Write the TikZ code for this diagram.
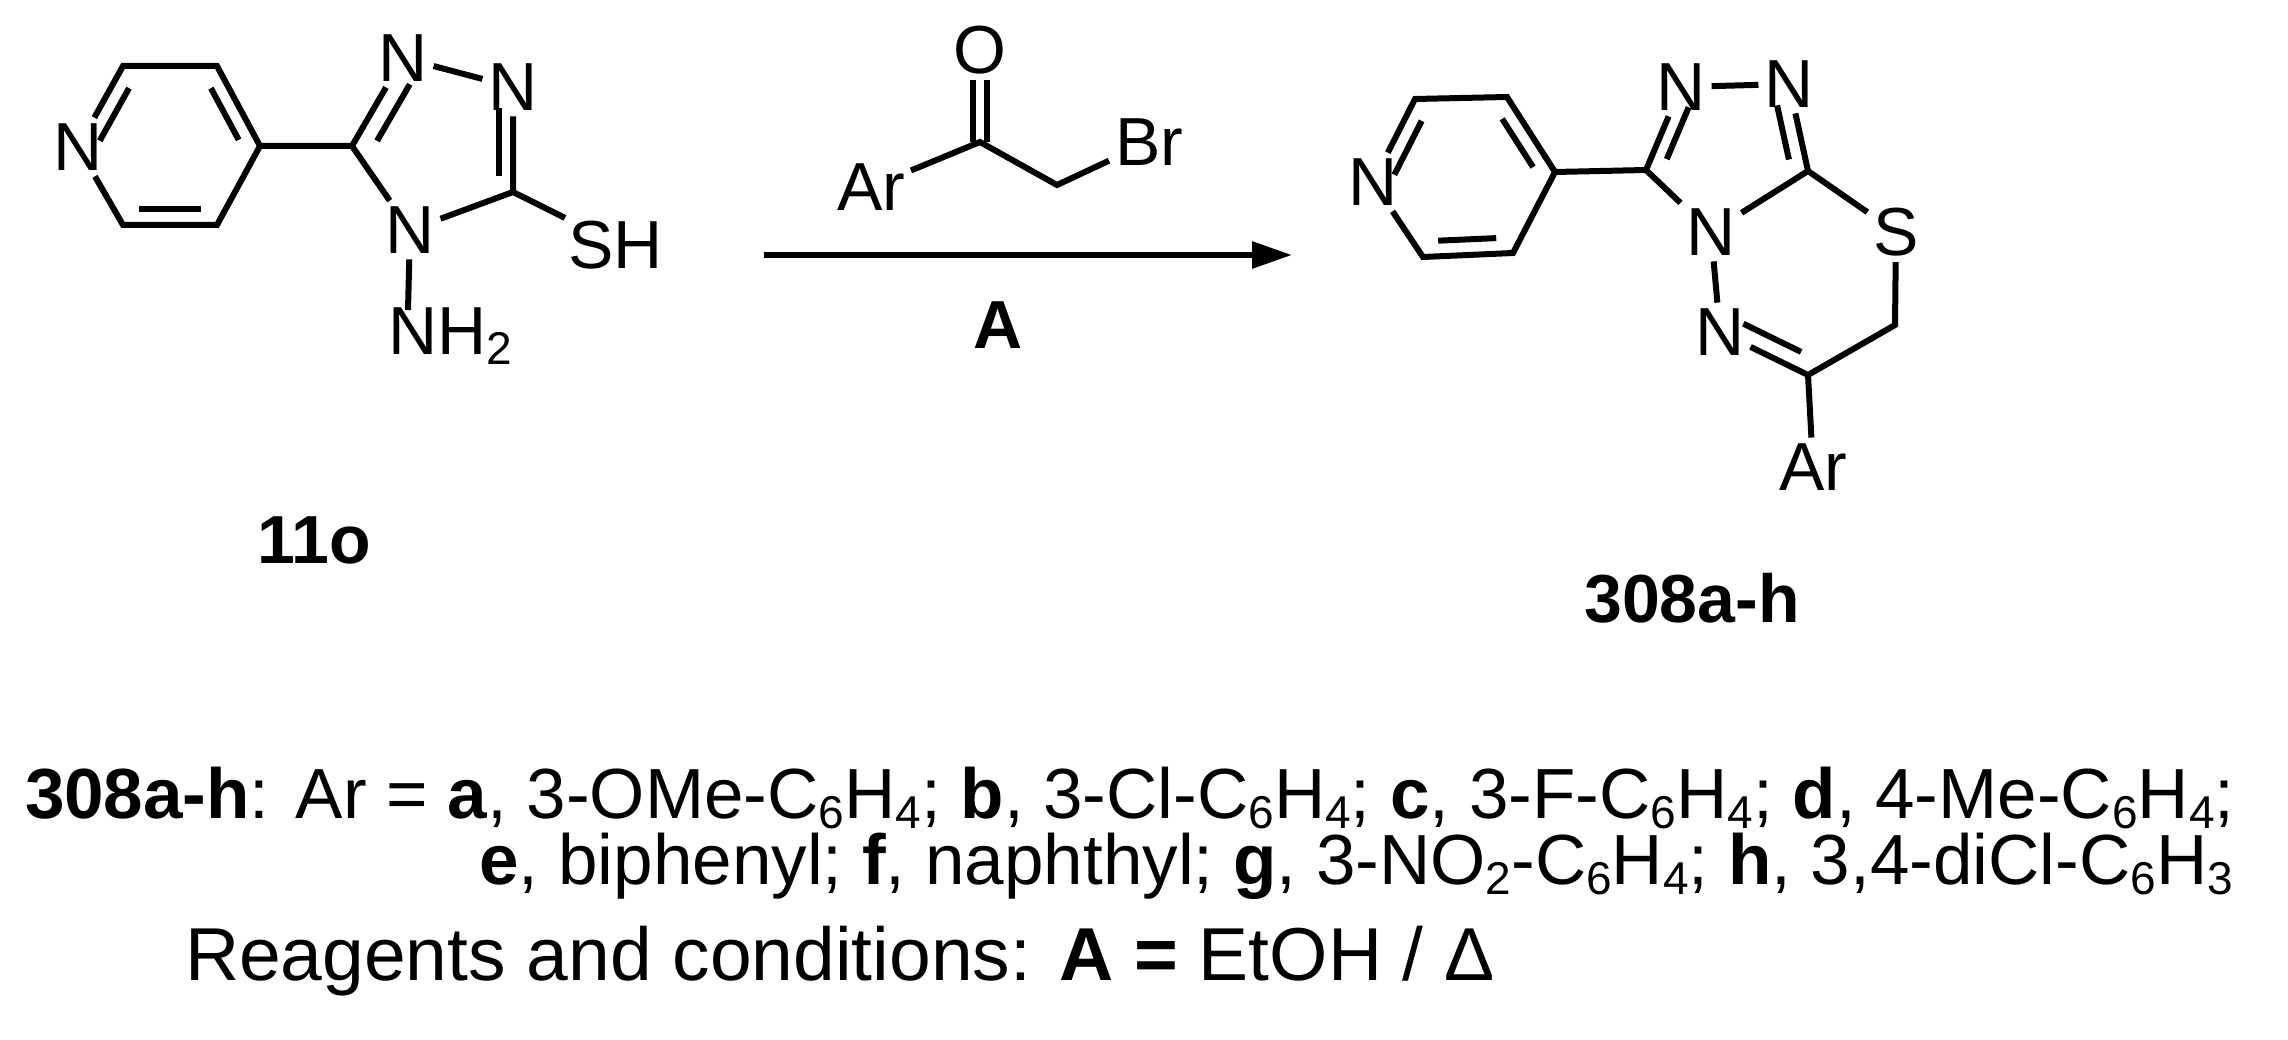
\documentclass[tikz,border=0pt]{standalone}
\usepackage{fontspec}
\setmainfont{Liberation Sans}
\usetikzlibrary{calc,arrows.meta}
\newcommand\mysub[1]{\raisebox{-0.15em}{\fontsize{46}{46}\selectfont #1}}
\begin{document}
\begin{tikzpicture}[x=1pt,y=-1pt,line width=6pt,
  atom/.style={inner sep=3pt,font=\fontsize{68}{68}\selectfont},
  txt/.style={inner sep=0pt,font=\fontsize{71}{71}\selectfont,anchor=base west},
  inner/.style={shorten <=7pt,shorten >=7pt}]
\useasboundingbox (0,0) rectangle (2288,1040);
% ---------- left molecule 11o
\node[atom] (LN) at (78,147) {N};
\coordinate (La) at (123,66);
\coordinate (Lb) at (217,66);
\coordinate (Lc) at (260,146);
\coordinate (Ld) at (217,225);
\coordinate (Le) at (123,225);
\coordinate (Lpc) at (170,146);
\coordinate (LC5) at (352,146);
\node[atom] (LN1) at (403,58) {N};
\node[atom] (LN2) at (513,87) {N};
\coordinate (LC3) at (513,192);
\node[atom] (LN4) at (410,230) {N};
\node[atom,anchor=west,inner sep=0pt] (LSH) at (565,245) {SH};
\node[atom,anchor=west,inner sep=0pt] (LNH) at (385,336) {NH\mysub{2}};
\coordinate (LNHn) at (408,310);
\coordinate (Ltc) at (450,150);
\draw (LN) -- (La) -- (Lb) -- (Lc) -- (Ld) -- (Le) -- (LN);
\draw[inner] ($(LN)!0.2!(Lpc)$) -- ($(La)!0.2!(Lpc)$);
\draw[inner] ($(Lb)!0.2!(Lpc)$) -- ($(Lc)!0.2!(Lpc)$);
\draw[inner] ($(Ld)!0.2!(Lpc)$) -- ($(Le)!0.2!(Lpc)$);
\draw (Lc) -- (LC5) -- (LN1) -- (LN2) -- (LC3) -- (LN4) -- (LC5);
\draw[inner] ($(LC5)!0.22!(Ltc)$) -- ($(LN1)!0.22!(Ltc)$);
\draw[inner] ($(LN2)!0.22!(Ltc)$) -- ($(LC3)!0.22!(Ltc)$);
\draw (LC3) -- (LSH.north west);
\draw (LN4) -- (LNHn);
\node[font=\bfseries\fontsize{68}{68}\selectfont] (L11) at (314,540) {11o};
% ---------- reagent and arrow
\node[atom] (RAr) at (871,187) {Ar};
\coordinate (RC) at (980,142);
\node[atom] (RO) at (980,50) {O};
\coordinate (RCH) at (1057,185);
\node[atom] (RBr) at (1149,142) {Br};
\draw (RAr) -- (RC) -- (RCH) -- (RBr);
\draw ($(RC)+(-7,0)$) -- ($(RO.south)+(-7,0)$);
\draw ($(RC)+(7,0)$) -- ($(RO.south)+(7,0)$);
\coordinate (A1) at (764,255);
\coordinate (A2) at (1292,255);
\draw[-{Triangle[length=40pt,width=26pt]}] (A1) -- (A2);
\node[font=\bfseries\fontsize{68}{68}\selectfont] (RA) at (998,325) {A};
% ---------- right molecule 308a-h
\node[atom] (PN) at (1373,182) {N};
\coordinate (Pa) at (1415,99);
\coordinate (Pb) at (1507,97);
\coordinate (Pc) at (1555,172);
\coordinate (Pd) at (1513,253);
\coordinate (Pe) at (1423,257);
\coordinate (Ppc) at (1464,177);
\coordinate (PC3) at (1646,170);
\node[atom] (PN1) at (1681,87) {N};
\node[atom] (PN2) at (1789,84) {N};
\coordinate (PC8) at (1808,171);
\node[atom] (PN4) at (1711,232) {N};
\node[atom] (PS) at (1896,232) {S};
\coordinate (PCH) at (1895,325);
\coordinate (PC6) at (1808,375);
\node[atom] (PN5) at (1720,332) {N};
\node[atom] (PAr) at (1813,467) {Ar};
\coordinate (Ptc) at (1728,150);
\coordinate (Psc) at (1805,275);
\draw (PN) -- (Pa) -- (Pb) -- (Pc) -- (Pd) -- (Pe) -- (PN);
\draw[inner] ($(PN)!0.2!(Ppc)$) -- ($(Pa)!0.2!(Ppc)$);
\draw[inner] ($(Pb)!0.2!(Ppc)$) -- ($(Pc)!0.2!(Ppc)$);
\draw[inner] ($(Pd)!0.2!(Ppc)$) -- ($(Pe)!0.2!(Ppc)$);
\draw (Pc) -- (PC3) -- (PN1) -- (PN2) -- (PC8) -- (PN4) -- (PC3);
\draw[inner] ($(PC3)!0.22!(Ptc)$) -- ($(PN1)!0.22!(Ptc)$);
\draw[inner] ($(PN2)!0.22!(Ptc)$) -- ($(PC8)!0.22!(Ptc)$);
\draw (PC8) -- (PS) -- (PCH) -- (PC6) -- (PN5) -- (PN4);
\draw[inner] ($(PC6)!0.2!(Psc)$) -- ($(PN5)!0.2!(Psc)$);
\draw (PC6) -- (PAr);
\node[font=\bfseries\fontsize{68}{68}\selectfont] (P308) at (1692,598) {308a-h};
% ---------- text
\node[txt] (T1) at (22,818) {\textbf{308a-h}: Ar = \textbf{a}, 3-OMe-C\mysub{6}H\mysub{4}; \textbf{b}, 3-Cl-C\mysub{6}H\mysub{4}; \textbf{c}, 3-F-C\mysub{6}H\mysub{4}; \textbf{d}, 4-Me-C\mysub{6}H\mysub{4};};
\node[txt,anchor=base east] (T2) at (2236,884) {\textbf{e}, biphenyl; \textbf{f}, naphthyl; \textbf{g}, 3-NO\mysub{2}-C\mysub{6}H\mysub{4}; \textbf{h}, 3,4-diCl-C\mysub{6}H\mysub{3}};
\node[txt,font=\fontsize{75}{75}\selectfont] (T3) at (182,980) {Reagents and conditions: \textbf{A =} EtOH / Δ};
\end{tikzpicture}
\end{document}
